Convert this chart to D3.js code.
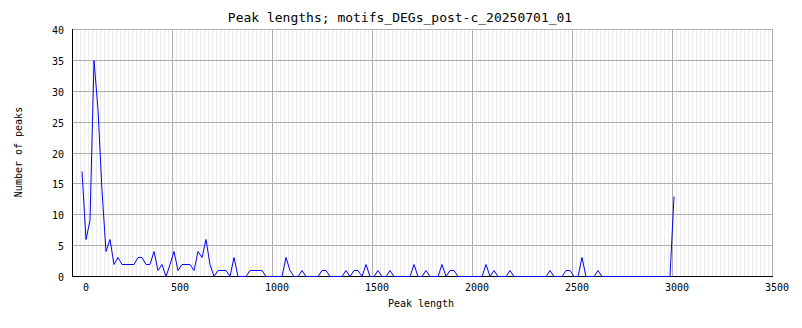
<!DOCTYPE html>
<html>
<head>
<meta charset="utf-8">
<script src="https://cdn.jsdelivr.net/npm/d3@7"></script>
<style>
  body { margin: 0; background: #fff; }
  text { font-family: "DejaVu Sans Mono", monospace; fill: #000; }
</style>
</head>
<body>
<svg id="chart" width="802" height="328"></svg>
<script>
var chartTitle = "Peak lengths; motifs_DEGs_post-c_20250701_01";
var xTitle = "Peak length";
var yTitle = "Number of peaks";

// bin centres (peak length) and counts per bin
var peakLength = [50,70,90,110,130,150,170,190,210,230,250,270,290,310,330,350,370,390,410,430,
  450,470,490,510,530,550,570,590,610,630,650,670,690,710,730,750,770,790,810,830,
  850,870,890,910,930,950,970,990,1010,1030,1050,1070,1090,1110,1130,1150,1170,1190,1210,1230,
  1250,1270,1290,1310,1330,1350,1370,1390,1410,1430,1450,1470,1490,1510,1530,1550,1570,1590,1610,1630,
  1650,1670,1690,1710,1730,1750,1770,1790,1810,1830,1850,1870,1890,1910,1930,1950,1970,1990,2010,2030,
  2050,2070,2090,2110,2130,2150,2170,2190,2210,2230,2250,2270,2290,2310,2330,2350,2370,2390,2410,2430,
  2450,2470,2490,2510,2530,2550,2570,2590,2610,2630,2650,2670,2690,2710,2730,2750,2770,2790,2810,2830,
  2850,2870,2890,2910,2930,2950,2970,2990,3010];
var peakCount = [17,6,9,35,27,14,4,6,2,3,2,2,2,2,3,3,2,2,4,1,
  2,0,2,4,1,2,2,2,1,4,3,6,2,0,1,1,1,0,3,0,
  0,0,1,1,1,1,0,0,0,0,0,3,1,0,0,1,0,0,0,0,
  1,1,0,0,0,0,1,0,1,1,0,2,0,0,1,0,0,1,0,0,
  0,0,0,2,0,0,1,0,0,0,2,0,1,1,0,0,0,0,0,0,
  0,2,0,1,0,0,0,1,0,0,0,0,0,0,0,0,0,1,0,0,
  0,1,1,0,0,3,0,0,0,1,0,0,0,0,0,0,0,0,0,0,
  0,0,0,0,0,0,0,0,13];

var xTicks = [0,500,1000,1500,2000,2500,3000,3500];
var yTicks = [0,5,10,15,20,25,30,35,40];

// plot box (window.top is reserved, so no plain "top")
var plotLeft = 72, plotRight = 772, plotTop = 29, plotBottom = 276;

function px(v) { return Math.round(v) + 0.5; }

function draw() {
  var svg = d3.select("#chart");

  var xScale = d3.scaleLinear().domain([0, 3500]).range([plotLeft, plotRight]);
  var yScale = d3.scaleLinear().domain([0, 40]).range([plotBottom, plotTop]);

  // minor vertical grid every 20
  var minor = d3.range(0, 3500, 20).filter(function(d) { return d % 500 != 0; });
  svg.append("g").selectAll("line").data(minor).enter()
    .append("line")
    .attr("x1", function(d) { return px(xScale(d)); })
    .attr("x2", function(d) { return px(xScale(d)); })
    .attr("y1", plotTop)
    .attr("y2", plotBottom)
    .attr("stroke", "#ebebeb")
    .attr("shape-rendering", "crispEdges");

  // major grid
  var grid = svg.append("g");
  grid.selectAll("line.gx").data(xTicks).enter()
    .append("line").attr("class", "gx")
    .attr("x1", function(d) { return px(xScale(d)); })
    .attr("x2", function(d) { return px(xScale(d)); })
    .attr("y1", plotTop)
    .attr("y2", plotBottom)
    .attr("stroke", "#b0b0b0")
    .attr("shape-rendering", "crispEdges");
  grid.selectAll("line.gy").data(yTicks).enter()
    .append("line").attr("class", "gy")
    .attr("x1", plotLeft)
    .attr("x2", plotRight + 1)
    .attr("y1", function(d) { return px(yScale(d)); })
    .attr("y2", function(d) { return px(yScale(d)); })
    .attr("stroke", "#b0b0b0")
    .attr("shape-rendering", "crispEdges");

  // axes lines
  svg.append("line")
    .attr("x1", px(plotLeft)).attr("x2", px(plotLeft))
    .attr("y1", plotTop).attr("y2", px(plotBottom))
    .attr("stroke", "#000").attr("shape-rendering", "crispEdges");
  svg.append("line")
    .attr("x1", plotLeft).attr("x2", plotRight + 1)
    .attr("y1", px(plotBottom)).attr("y2", px(plotBottom))
    .attr("stroke", "#000").attr("shape-rendering", "crispEdges");

  // tick labels
  svg.append("g").selectAll("text").data(xTicks).enter()
    .append("text")
    .attr("x", function(d) { return xScale(d) + 17; })
    .attr("y", 291)
    .attr("text-anchor", "end")
    .attr("font-size", 10)
    .text(function(d) { return d; });
  svg.append("g").selectAll("text").data(yTicks).enter()
    .append("text")
    .attr("x", 64)
    .attr("y", function(d) { return yScale(d) + 5; })
    .attr("text-anchor", "end")
    .attr("font-size", 10)
    .text(function(d) { return d; });

  // titles
  svg.append("text")
    .attr("x", 400).attr("y", 22)
    .attr("text-anchor", "middle")
    .attr("font-size", 13)
    .text(chartTitle);
  svg.append("text")
    .attr("x", 421).attr("y", 307)
    .attr("text-anchor", "middle")
    .attr("font-size", 10)
    .text(xTitle);
  svg.append("text")
    .attr("transform", "translate(22,152) rotate(-90)")
    .attr("text-anchor", "middle")
    .attr("font-size", 10)
    .text(yTitle);

  // data line
  var line = d3.line()
    .x(function(d, i) { return xScale(peakLength[i]); })
    .y(function(d) { return px(yScale(d)); });
  svg.append("path")
    .datum(peakCount)
    .attr("d", line)
    .attr("fill", "none")
    .attr("stroke", "#0000ff")
    .attr("stroke-width", 1);
}

draw();
</script>
</body>
</html>
